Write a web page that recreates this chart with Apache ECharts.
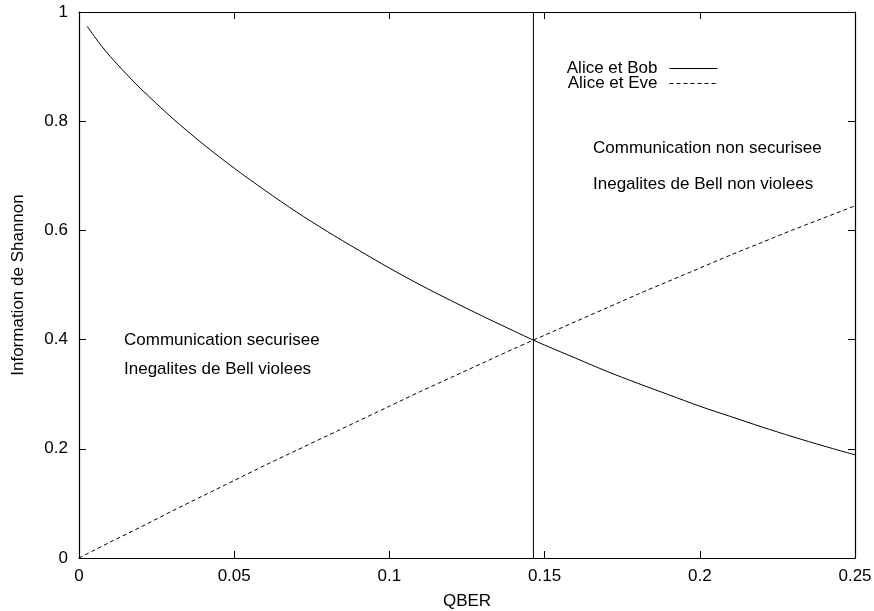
<!DOCTYPE html>
<html>
<head>
<meta charset="utf-8">
<script src="https://cdn.jsdelivr.net/npm/echarts@6/dist/echarts.min.js"></script>
<style>
html,body{margin:0;padding:0;background:#fff;}
#chart{width:874px;height:611px;}
</style>
</head>
<body>
<div id="chart"></div>
<script>
// ---- data ----
const qberAB = [0.0026, 0.005, 0.0075, 0.01, 0.015, 0.02, 0.03, 0.04, 0.05, 0.06, 0.07, 0.08, 0.09, 0.10, 0.11, 0.12, 0.13, 0.14, 0.1464, 0.15, 0.16, 0.17, 0.18, 0.19, 0.20, 0.21, 0.22, 0.23, 0.24, 0.25];
const infoAliceBob = [0.974, 0.955, 0.936, 0.919, 0.888, 0.859, 0.806, 0.758, 0.714, 0.673, 0.634, 0.598, 0.564, 0.531, 0.500, 0.471, 0.443, 0.416, 0.399, 0.390, 0.366, 0.342, 0.320, 0.299, 0.278, 0.259, 0.240, 0.222, 0.205, 0.189];
const qberAE = [0, 0.01, 0.02, 0.03, 0.04, 0.05, 0.06, 0.07, 0.08, 0.09, 0.10, 0.11, 0.12, 0.13, 0.14, 0.1464, 0.15, 0.16, 0.17, 0.18, 0.19, 0.20, 0.21, 0.22, 0.23, 0.24, 0.25];
const infoAliceEve = [0, 0.029, 0.057, 0.086, 0.114, 0.142, 0.170, 0.197, 0.224, 0.251, 0.278, 0.305, 0.331, 0.357, 0.383, 0.399, 0.408, 0.433, 0.458, 0.483, 0.507, 0.531, 0.555, 0.578, 0.601, 0.623, 0.645];
const thresholdQBER = 0.1464;
const seriesNames = ['Alice et Bob', 'Alice et Eve'];
const xTicks = [0, 0.05, 0.1, 0.15, 0.2, 0.25];
const yTicks = [0, 0.2, 0.4, 0.6, 0.8, 1];
const annotations = [
  {text: 'Communication non securisee', x: 0.1656, y: 0.751},
  {text: 'Inegalites de Bell non violees', x: 0.1656, y: 0.685},
  {text: 'Communication securisee', x: 0.0145, y: 0.399},
  {text: 'Inegalites de Bell violees', x: 0.0145, y: 0.346}
];

const FONT = '"Liberation Sans", Arial, Helvetica, sans-serif';
const FS = 17;
const chart = echarts.init(document.getElementById('chart'), null, {renderer: 'canvas'});

function axisBase() {
  return {
    type: 'value',
    axisLine: {show: true, onZero: false, lineStyle: {color: '#000', width: 1.2}},
    axisTick: {show: true, inside: true, length: 7, lineStyle: {color: '#000', width: 1}},
    splitLine: {show: false}
  };
}

const option = {
  backgroundColor: '#fff',
  animation: false,
  grid: {left: 79, right: 19, top: 12, bottom: 53, containLabel: false, outerBoundsMode: 'none'},
  legend: {
    data: seriesNames,
    orient: 'vertical',
    align: 'right',
    right: 151,
    top: 55,
    itemWidth: 48,
    itemHeight: 14,
    itemGap: -2,
    itemStyle: {opacity: 0},
    lineStyle: {width: 1, color: '#000'},
    textStyle: {fontFamily: FONT, fontSize: FS, color: '#000', padding: [0, 7, 0, 0]}
  },
  xAxis: [
    Object.assign(axisBase(), {
      position: 'bottom', min: xTicks[0], max: xTicks[xTicks.length - 1], interval: xTicks[1] - xTicks[0],
      name: 'QBER', nameLocation: 'middle', nameGap: 35,
      nameTextStyle: {fontFamily: FONT, fontSize: FS, color: '#000'},
      axisLabel: {margin: 10, fontFamily: FONT, fontSize: FS, color: '#000'}
    }),
    Object.assign(axisBase(), {
      position: 'top', min: xTicks[0], max: xTicks[xTicks.length - 1], interval: xTicks[1] - xTicks[0],
      axisLabel: {show: false}
    })
  ],
  yAxis: [
    Object.assign(axisBase(), {
      position: 'left', min: yTicks[0], max: yTicks[yTicks.length - 1], interval: yTicks[1] - yTicks[0],
      name: 'Information de Shannon', nameLocation: 'middle', nameGap: 52,
      nameTextStyle: {fontFamily: FONT, fontSize: FS, color: '#000'},
      axisLabel: {margin: 11, fontFamily: FONT, fontSize: FS, color: '#000'}
    }),
    Object.assign(axisBase(), {
      position: 'right', min: yTicks[0], max: yTicks[yTicks.length - 1], interval: yTicks[1] - yTicks[0],
      axisLabel: {show: false}
    })
  ],
  series: [
    {
      name: seriesNames[0], type: 'line', xAxisIndex: 0, yAxisIndex: 0,
      data: qberAB.map((x, i) => [x, infoAliceBob[i]]),
      smooth: 0.3, symbol: 'none', showSymbol: false,
      lineStyle: {color: '#000', width: 1, type: 'solid'},
      itemStyle: {color: '#000'}
    },
    {
      name: seriesNames[1], type: 'line', xAxisIndex: 0, yAxisIndex: 0,
      data: qberAE.map((x, i) => [x, infoAliceEve[i]]),
      smooth: 0.3, symbol: 'none', showSymbol: false,
      lineStyle: {color: '#000', width: 1, type: [4, 3]},
      itemStyle: {color: '#000'}
    },
    {
      name: 'seuil', type: 'line', xAxisIndex: 0, yAxisIndex: 0,
      data: [[thresholdQBER, yTicks[0]], [thresholdQBER, yTicks[yTicks.length - 1]]],
      symbol: 'none', showSymbol: false,
      lineStyle: {color: '#000', width: 1},
      silent: true
    }
  ]
};
chart.setOption(option);

const graphics = annotations.map(a => {
  const p = chart.convertToPixel({xAxisIndex: 0, yAxisIndex: 0}, [a.x, a.y]);
  return {
    type: 'text', x: p[0], y: p[1],
    style: {text: a.text, fontFamily: FONT, fontSize: FS, fill: '#000', textAlign: 'left', textVerticalAlign: 'middle'}
  };
});
chart.setOption({graphic: graphics});
</script>
</body>
</html>
